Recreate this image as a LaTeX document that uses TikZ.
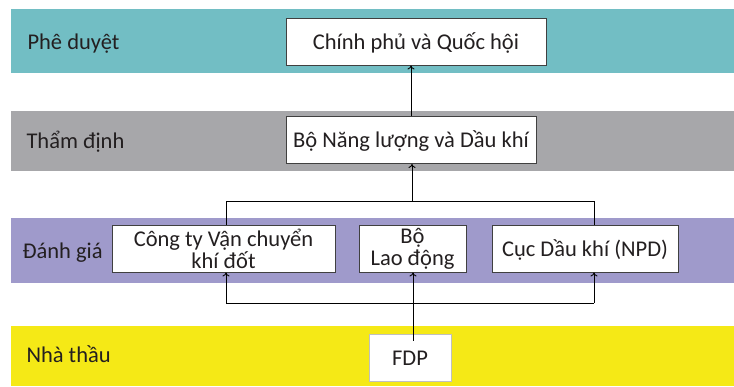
\documentclass[tikz,border=0pt]{standalone}
\usepackage{fontspec}
\setmainfont{Carlito}
\usetikzlibrary{arrows.meta}
\tikzset {>={To[length=4pt,width=7pt]}}
\definecolor{approve}{HTML}{72BEC4}
\definecolor{review}{HTML}{A7A7AA}
\definecolor{assess}{HTML}{9F9ACB}
\definecolor{contract}{HTML}{F5E916}
\definecolor{ink}{HTML}{231F20}
\tikzset{box/.style={draw=black!75,fill=white,line width=0.9pt,inner sep=0pt,
  align=center,minimum height=47pt},
  oneline/.style={text height=19pt,text depth=4pt}}

\begin{document}
\begin{tikzpicture}[x=1pt,y=-1pt,font=\fontsize{22.5}{22}\selectfont,text=ink]
\useasboundingbox (0,0) rectangle (734,386);
% bands
\fill[approve] (11,9) rectangle (734,73);
\fill[review] (11,111) rectangle (734,171);
\fill[assess] (11,218) rectangle (734,283);
\fill[contract] (11,326) rectangle (734,386);
\node[anchor=base west] (l1) at (24,49) {Phê duyệt};
\node[anchor=base west] (l2) at (23,148) {Thẩm định};
\node[anchor=base west] (l3) at (19,258) {Đánh giá};
\node[anchor=base west] (l4) at (23,362) {Nhà thầu};
% boxes
\node[box,oneline,minimum width=260pt] (CP) at (416,41.5) {Chính phủ và Quốc hội};
\node[box,oneline,minimum width=250pt] (BNL) at (411,140) {Bộ Năng lượng và Dầu khí};
\node[box,minimum width=223pt] (CT) at (223.5,248.5) {Công ty Vận chuyển\\khí đốt};
\node[box,minimum width=107pt] (BLD) at (412.5,248.5) {Bộ\\Lao động};
\node[box,oneline,minimum width=186pt] (CDK) at (585,248.5) {Cục Dầu khí (NPD)};
\node[box,oneline,draw=black!25,minimum width=82pt] (FDP) at (410,357.5) {FDP};
% connectors
\coordinate (tl) at (226,201);
\coordinate (tm) at (412,201);
\coordinate (tr) at (594,201);
\coordinate (bl) at (226,303);
\coordinate (bm) at (413,303);
\coordinate (br) at (594,303);
\draw[line width=0.9pt] (CT.north -| tl) -- (tl) -- (tr) -- (CDK.north -| tr);
\draw[line width=0.9pt,->] (tm) -- (tm |- BNL.south);
\draw[line width=0.9pt,->] (BNL.north) -- (BNL.north |- CP.south);
\draw[line width=0.9pt] ([yshift=-7pt]bm |- FDP.north) -- (bm);
\draw[line width=0.9pt] (bl) -- (br);
\foreach \c/\n in {bl/CT,bm/BLD,br/CDK}
  \draw[line width=0.9pt,->] (\c) -- (\c |- \n.south);
\end{tikzpicture}
\end{document}
